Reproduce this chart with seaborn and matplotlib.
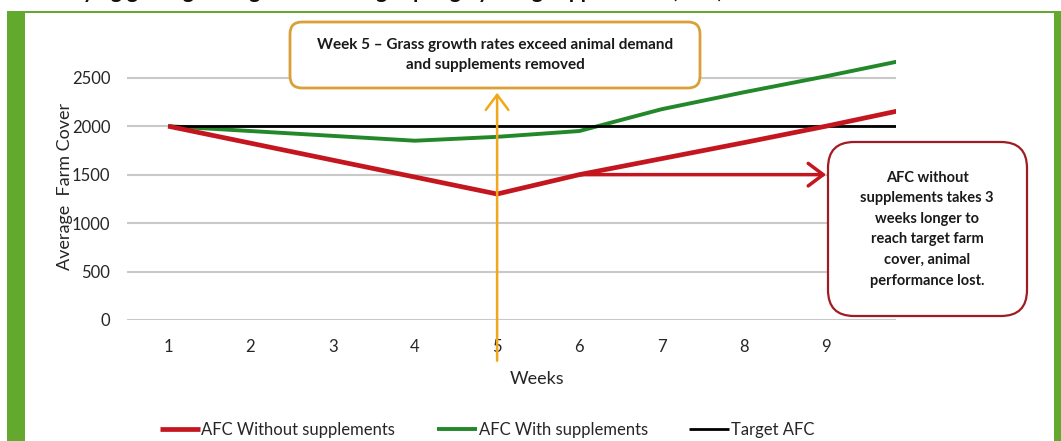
import numpy as np
import pandas as pd
import matplotlib.pyplot as plt
import seaborn as sns
from matplotlib.patches import FancyBboxPatch, Rectangle
from matplotlib.transforms import IdentityTransform

# ── Data ───────────────────────────────────────────────────────────────────────
weeks = [1, 2, 3, 4, 5, 6, 7, 8, 9, 10]
afc_without = [2000, 1825, 1650, 1475, 1300, 1500, 1665, 1830, 2000, 2180]
afc_with = [2000, 1950, 1900, 1850, 1890, 1950, 2175, 2350, 2515, 2690]
target_afc = [2000] * 10
tick_labels = ["1", "2", "3", "4", "5", "6", "7", "8", "9"]

series_names = ["AFC Without supplements", "AFC With supplements", "Target AFC"]
series_colors = {"AFC Without supplements": "#c3161f",
                 "AFC With supplements": "#22882a",
                 "Target AFC": "#000000"}
series_widths = {"AFC Without supplements": 3.4,
                 "AFC With supplements": 2.8,
                 "Target AFC": 2.0}

df = pd.DataFrame({
    "week": weeks * 3,
    "afc": afc_without + afc_with + target_afc,
    "series": np.repeat(series_names, len(weeks)),
})

FRAME_GREEN = "#63a92d"
ORANGE = "#f0a81a"
BOX_ORANGE = "#d9a03a"
BOX_RED = "#a01c22"

# ── Plot ───────────────────────────────────────────────────────────────────────
sns.set_theme(style="white")
plt.rcParams["font.family"] = ["Lato", "DejaVu Sans"]

W, H = 1061, 441
fig = plt.figure(figsize=(W / 100, H / 100), dpi=100)
ax = fig.add_axes([127 / W, 121 / H, (896 - 127) / W, 266.5 / H])

zorders = {"Target AFC": 3, "AFC With supplements": 2, "AFC Without supplements": 4}
for name in series_names:
    sub = df[df["series"] == name]
    sns.lineplot(data=sub, x="week", y="afc", ax=ax, color=series_colors[name],
                 linewidth=series_widths[name], label=name,
                 zorder=zorders[name], solid_capstyle="butt")

# chart area stops a little short of week 10
ax.set_xlim(0.5, 9.85)
ax.set_ylim(0, 2750)
ax.set_yticks([0, 500, 1000, 1500, 2000, 2500])
ax.set_xticks(weeks[:9])
ax.set_xticklabels(tick_labels)
ax.yaxis.grid(True, color="#c9c9c9", linewidth=1.5)
ax.xaxis.grid(False)
sns.despine(ax=ax, left=True, bottom=True)
ax.tick_params(axis="y", labelsize=12, pad=12, colors="#262626", length=0)
ax.tick_params(axis="x", labelsize=12, pad=14, colors="#262626", length=0)
ax.set_xlabel("Weeks", fontsize=13, color="#262626", labelpad=11)
ax.xaxis.label.set_x(0.533)
ax.set_ylabel("Average  Farm Cover", fontsize=13, color="#262626", labelpad=-1)

# week 5 marker line with arrow
ax.annotate("", xy=(5, 2345), xytext=(5, -420),
            arrowprops=dict(arrowstyle="->,head_length=0.6,head_width=0.45",
                            color=ORANGE, lw=1.8, mutation_scale=18,
                            shrinkA=0, shrinkB=0),
            annotation_clip=False, zorder=6)
# arrow from week 6 to callout box
ax.annotate("", xy=(9.0, 1500), xytext=(6, 1500),
            arrowprops=dict(arrowstyle="->,head_length=0.6,head_width=0.45",
                            color="#c3161f", lw=2.5, mutation_scale=18,
                            shrinkA=0, shrinkB=0),
            annotation_clip=False, zorder=5)

handles, labels = ax.get_legend_handles_labels()
ax.legend_.remove()
fig.legend(handles, labels, loc="center", bbox_to_anchor=(487 / W, 11 / H),
           ncol=3, frameon=False, fontsize=12, handlelength=2.4,
           handletextpad=0.1, columnspacing=2.5)

# ── Frame and callouts (display pixels) ────────────────────────────────────────
ident = IdentityTransform()
fig.patches.append(Rectangle((7, 0), 18, H - 13, transform=ident,
                             facecolor=FRAME_GREEN, edgecolor="none", zorder=1))
fig.patches.append(Rectangle((7, H - 13), W - 7, 2.5, transform=ident,
                             facecolor=FRAME_GREEN, edgecolor="none", zorder=1))
fig.patches.append(Rectangle((1054, 0), 7, H - 13, transform=ident,
                             facecolor=FRAME_GREEN, edgecolor="none", zorder=1))

fig.patches.append(FancyBboxPatch((300, 363), 390, 46, transform=ident,
                                  boxstyle="round,pad=10,rounding_size=12",
                                  facecolor="white", edgecolor=BOX_ORANGE,
                                  linewidth=2, zorder=7))
fig.text(495, 386, "Week 5 \u2013 Grass growth rates exceed animal demand\n"
         "and supplements removed", transform=ident, ha="center", va="center",
         fontsize=11, fontweight="bold", color="#1a1a1a", linespacing=1.5,
         zorder=8)

fig.patches.append(FancyBboxPatch((838, 135), 179, 154, transform=ident,
                                  boxstyle="round,pad=10,rounding_size=26",
                                  facecolor="white", edgecolor=BOX_RED,
                                  linewidth=1.6, zorder=7))
fig.text(927, 212, "AFC without\nsupplements takes 3\nweeks longer to\n"
         "reach target farm\ncover, animal\nperformance lost.",
         transform=ident, ha="center", va="center", fontsize=10.5,
         fontweight="bold", color="#1a1a1a", linespacing=1.6, zorder=8)

# caption above the frame, cut off at the top edge as in the source image
fig.text(50, H + 2.5, "Varying grazing management through spring by using supplements (AFC)",
         transform=ident, ha="left", va="baseline", fontsize=15,
         fontweight="bold", color="#111111")

fig.savefig("out.png", dpi=100)
